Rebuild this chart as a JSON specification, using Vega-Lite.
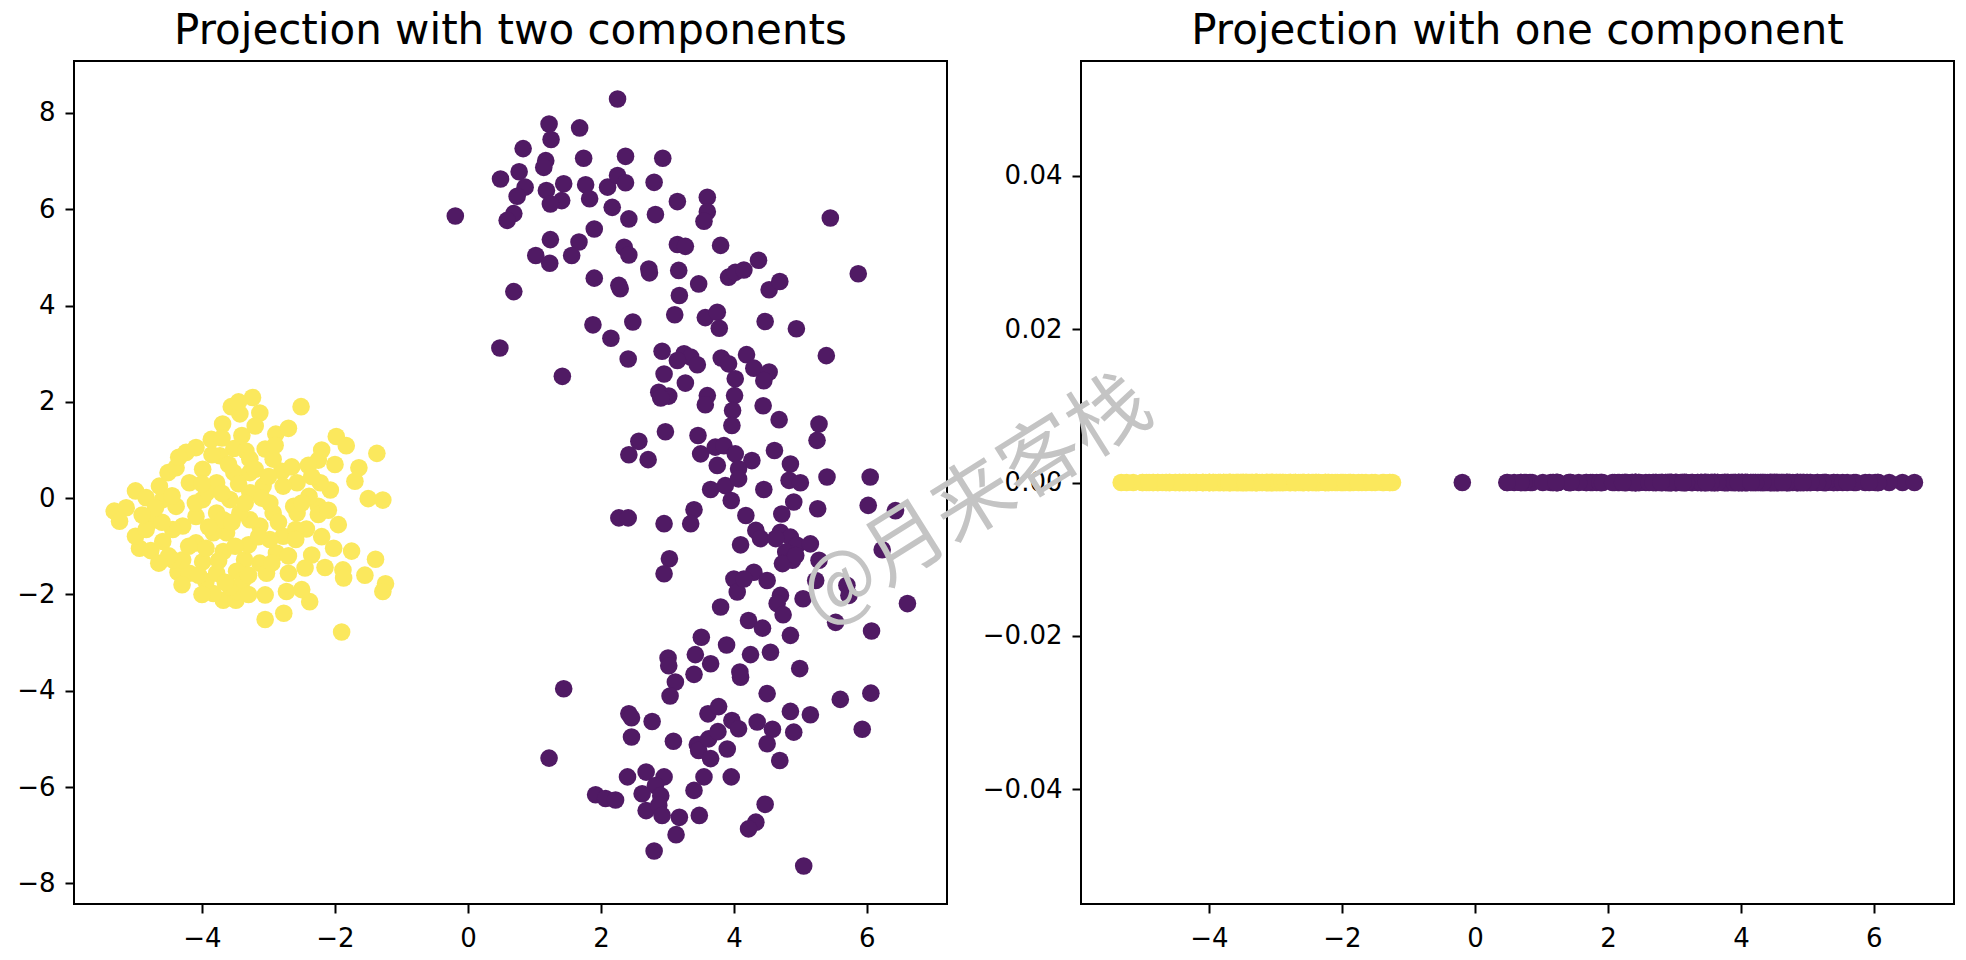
{
  "$schema": "https://vega.github.io/schema/vega-lite/v6.json",
  "background": "white",
  "padding": {"left": 15, "top": 9, "right": 14, "bottom": 10},
  "config": {
    "font": "DejaVu Sans",
    "view": {"stroke": "#000000", "strokeWidth": 2},
    "axis": {
      "grid": false,
      "domain": false,
      "ticks": true,
      "tickColor": "#000000",
      "tickWidth": 2,
      "tickSize": 9,
      "labelFont": "DejaVu Sans",
      "labelFontSize": 26,
      "labelColor": "#000000",
      "labelOverlap": false,
      "labelFlush": false
    },
    "axisX": {"labelPadding": 12},
    "axisY": {"labelPadding": 10},
    "title": {
      "font": "DejaVu Sans",
      "fontSize": 42,
      "fontWeight": "normal",
      "color": "#000000",
      "anchor": "middle",
      "baseline": "bottom",
      "offset": 8
    }
  },
  "datasets": {
    "pts": [
      {"x": 2.25, "y": 8.29, "group": 0}, {"x": 1.22, "y": 7.77, "group": 0}, {"x": 1.25, "y": 7.45, "group": 0},
      {"x": 1.68, "y": 7.69, "group": 0}, {"x": 0.83, "y": 7.26, "group": 0}, {"x": 1.74, "y": 7.06, "group": 0},
      {"x": 2.37, "y": 7.10, "group": 0}, {"x": 2.93, "y": 7.06, "group": 0}, {"x": 1.17, "y": 7.01, "group": 0},
      {"x": 1.14, "y": 6.87, "group": 0}, {"x": 0.77, "y": 6.78, "group": 0}, {"x": 0.49, "y": 6.63, "group": 0},
      {"x": 0.86, "y": 6.46, "group": 0}, {"x": 0.74, "y": 6.27, "group": 0}, {"x": 1.18, "y": 6.39, "group": 0},
      {"x": 1.44, "y": 6.53, "group": 0}, {"x": 1.77, "y": 6.51, "group": 0}, {"x": 1.41, "y": 6.18, "group": 0},
      {"x": 1.24, "y": 6.11, "group": 0}, {"x": 1.83, "y": 6.22, "group": 0}, {"x": 2.10, "y": 6.46, "group": 0},
      {"x": 2.25, "y": 6.70, "group": 0}, {"x": 2.37, "y": 6.55, "group": 0}, {"x": 2.17, "y": 6.04, "group": 0},
      {"x": 2.80, "y": 6.56, "group": 0}, {"x": -0.19, "y": 5.86, "group": 0}, {"x": 0.69, "y": 5.91, "group": 0},
      {"x": 0.59, "y": 5.77, "group": 0}, {"x": 2.42, "y": 5.80, "group": 0}, {"x": 2.82, "y": 5.89, "group": 0},
      {"x": 3.15, "y": 6.16, "group": 0}, {"x": 3.60, "y": 6.25, "group": 0}, {"x": 3.60, "y": 5.95, "group": 0},
      {"x": 3.55, "y": 5.75, "group": 0}, {"x": 5.45, "y": 5.82, "group": 0}, {"x": 1.90, "y": 5.59, "group": 0},
      {"x": 1.24, "y": 5.37, "group": 0}, {"x": 1.67, "y": 5.32, "group": 0}, {"x": 1.02, "y": 5.04, "group": 0},
      {"x": 1.23, "y": 4.88, "group": 0}, {"x": 1.56, "y": 5.04, "group": 0}, {"x": 2.35, "y": 5.21, "group": 0},
      {"x": 2.42, "y": 5.05, "group": 0}, {"x": 3.15, "y": 5.27, "group": 0}, {"x": 3.27, "y": 5.23, "group": 0},
      {"x": 3.80, "y": 5.25, "group": 0}, {"x": 2.72, "y": 4.76, "group": 0}, {"x": 2.73, "y": 4.68, "group": 0},
      {"x": 3.17, "y": 4.73, "group": 0}, {"x": 3.47, "y": 4.45, "group": 0}, {"x": 3.92, "y": 4.59, "group": 0},
      {"x": 4.02, "y": 4.69, "group": 0}, {"x": 4.15, "y": 4.74, "group": 0}, {"x": 4.37, "y": 4.94, "group": 0},
      {"x": 4.53, "y": 4.33, "group": 0}, {"x": 4.69, "y": 4.50, "group": 0}, {"x": 5.87, "y": 4.66, "group": 0},
      {"x": 0.69, "y": 4.29, "group": 0}, {"x": 1.90, "y": 4.57, "group": 0}, {"x": 2.29, "y": 4.35, "group": 0},
      {"x": 2.27, "y": 4.42, "group": 0}, {"x": 3.18, "y": 4.21, "group": 0}, {"x": 3.11, "y": 3.81, "group": 0},
      {"x": 3.57, "y": 3.75, "group": 0}, {"x": 3.75, "y": 3.86, "group": 0}, {"x": 3.78, "y": 3.53, "group": 0},
      {"x": 4.47, "y": 3.67, "group": 0}, {"x": 4.94, "y": 3.52, "group": 0}, {"x": 1.88, "y": 3.60, "group": 0},
      {"x": 2.48, "y": 3.66, "group": 0}, {"x": 2.15, "y": 3.32, "group": 0}, {"x": 0.48, "y": 3.12, "group": 0},
      {"x": 2.41, "y": 2.89, "group": 0}, {"x": 2.92, "y": 3.05, "group": 0}, {"x": 3.25, "y": 3.00, "group": 0},
      {"x": 3.35, "y": 2.93, "group": 0}, {"x": 3.45, "y": 2.77, "group": 0}, {"x": 2.95, "y": 2.58, "group": 0},
      {"x": 3.27, "y": 2.39, "group": 0}, {"x": 3.15, "y": 2.86, "group": 0}, {"x": 3.81, "y": 2.91, "group": 0},
      {"x": 3.92, "y": 2.79, "group": 0}, {"x": 4.19, "y": 2.98, "group": 0}, {"x": 4.30, "y": 2.70, "group": 0},
      {"x": 4.53, "y": 2.62, "group": 0}, {"x": 4.45, "y": 2.44, "group": 0}, {"x": 4.02, "y": 2.48, "group": 0},
      {"x": 4.01, "y": 2.13, "group": 0}, {"x": 5.39, "y": 2.96, "group": 0}, {"x": 1.42, "y": 2.53, "group": 0},
      {"x": 2.87, "y": 2.20, "group": 0}, {"x": 3.02, "y": 2.12, "group": 0}, {"x": 2.90, "y": 2.08, "group": 0},
      {"x": 3.60, "y": 2.13, "group": 0}, {"x": 3.57, "y": 1.94, "group": 0}, {"x": 3.98, "y": 1.82, "group": 0},
      {"x": 3.97, "y": 1.51, "group": 0}, {"x": 4.44, "y": 1.92, "group": 0}, {"x": 4.68, "y": 1.63, "group": 0},
      {"x": 5.28, "y": 1.54, "group": 0}, {"x": 5.25, "y": 1.20, "group": 0}, {"x": 2.97, "y": 1.38, "group": 0},
      {"x": 2.57, "y": 1.18, "group": 0}, {"x": 2.42, "y": 0.90, "group": 0}, {"x": 2.71, "y": 0.80, "group": 0},
      {"x": 3.46, "y": 1.30, "group": 0}, {"x": 3.50, "y": 0.92, "group": 0}, {"x": 3.72, "y": 1.06, "group": 0},
      {"x": 3.85, "y": 1.09, "group": 0}, {"x": 4.02, "y": 0.92, "group": 0}, {"x": 3.75, "y": 0.68, "group": 0},
      {"x": 4.27, "y": 0.78, "group": 0}, {"x": 4.61, "y": 0.99, "group": 0}, {"x": 4.85, "y": 0.71, "group": 0},
      {"x": 5.40, "y": 0.44, "group": 0}, {"x": 6.05, "y": 0.44, "group": 0}, {"x": 4.07, "y": 0.61, "group": 0},
      {"x": 3.65, "y": 0.18, "group": 0}, {"x": 3.87, "y": 0.26, "group": 0}, {"x": 4.07, "y": 0.40, "group": 0},
      {"x": 3.96, "y": -0.05, "group": 0}, {"x": 4.45, "y": 0.18, "group": 0}, {"x": 4.83, "y": 0.37, "group": 0},
      {"x": 5.00, "y": 0.32, "group": 0}, {"x": 4.90, "y": -0.08, "group": 0}, {"x": 4.72, "y": -0.33, "group": 0},
      {"x": 5.26, "y": -0.22, "group": 0}, {"x": 6.02, "y": -0.15, "group": 0}, {"x": 6.43, "y": -0.26, "group": 0},
      {"x": 2.27, "y": -0.41, "group": 0}, {"x": 2.41, "y": -0.41, "group": 0}, {"x": 2.95, "y": -0.53, "group": 0},
      {"x": 3.40, "y": -0.24, "group": 0}, {"x": 3.35, "y": -0.53, "group": 0}, {"x": 4.18, "y": -0.36, "group": 0},
      {"x": 4.33, "y": -0.67, "group": 0}, {"x": 4.40, "y": -0.84, "group": 0}, {"x": 4.70, "y": -0.71, "group": 0},
      {"x": 4.85, "y": -0.81, "group": 0}, {"x": 4.95, "y": -0.98, "group": 0}, {"x": 5.15, "y": -0.95, "group": 0},
      {"x": 4.78, "y": -1.12, "group": 0}, {"x": 4.88, "y": -1.29, "group": 0}, {"x": 4.73, "y": -1.36, "group": 0},
      {"x": 5.28, "y": -1.29, "group": 0}, {"x": 4.10, "y": -0.97, "group": 0}, {"x": 6.23, "y": -1.07, "group": 0},
      {"x": 5.23, "y": -1.71, "group": 0}, {"x": 5.70, "y": -1.81, "group": 0}, {"x": 5.73, "y": -2.02, "group": 0},
      {"x": 3.03, "y": -1.26, "group": 0}, {"x": 2.95, "y": -1.57, "group": 0}, {"x": 4.00, "y": -1.68, "group": 0},
      {"x": 4.30, "y": -1.54, "group": 0}, {"x": 4.50, "y": -1.71, "group": 0}, {"x": 4.05, "y": -1.95, "group": 0},
      {"x": 4.70, "y": -2.02, "group": 0}, {"x": 4.65, "y": -2.19, "group": 0}, {"x": 4.74, "y": -2.42, "group": 0},
      {"x": 5.04, "y": -2.09, "group": 0}, {"x": 3.80, "y": -2.26, "group": 0}, {"x": 6.61, "y": -2.19, "group": 0},
      {"x": 5.53, "y": -2.58, "group": 0}, {"x": 6.07, "y": -2.76, "group": 0}, {"x": 4.22, "y": -2.54, "group": 0},
      {"x": 4.43, "y": -2.70, "group": 0}, {"x": 4.85, "y": -2.85, "group": 0}, {"x": 3.51, "y": -2.89, "group": 0},
      {"x": 3.89, "y": -3.05, "group": 0}, {"x": 3.01, "y": -3.32, "group": 0}, {"x": 3.02, "y": -3.48, "group": 0},
      {"x": 3.42, "y": -3.25, "group": 0}, {"x": 3.65, "y": -3.44, "group": 0}, {"x": 3.40, "y": -3.66, "group": 0},
      {"x": 4.25, "y": -3.25, "group": 0}, {"x": 4.55, "y": -3.20, "group": 0}, {"x": 4.09, "y": -3.61, "group": 0},
      {"x": 4.10, "y": -3.72, "group": 0}, {"x": 4.99, "y": -3.54, "group": 0}, {"x": 3.12, "y": -3.82, "group": 0},
      {"x": 3.04, "y": -4.11, "group": 0}, {"x": 4.50, "y": -4.06, "group": 0}, {"x": 5.60, "y": -4.18, "group": 0},
      {"x": 6.06, "y": -4.05, "group": 0}, {"x": 1.44, "y": -3.96, "group": 0}, {"x": 2.42, "y": -4.48, "group": 0},
      {"x": 2.46, "y": -4.56, "group": 0}, {"x": 2.46, "y": -4.96, "group": 0}, {"x": 2.77, "y": -4.64, "group": 0},
      {"x": 3.61, "y": -4.48, "group": 0}, {"x": 3.77, "y": -4.33, "group": 0}, {"x": 3.97, "y": -4.62, "group": 0},
      {"x": 4.07, "y": -4.79, "group": 0}, {"x": 4.35, "y": -4.65, "group": 0}, {"x": 4.58, "y": -4.80, "group": 0},
      {"x": 4.85, "y": -4.43, "group": 0}, {"x": 5.15, "y": -4.50, "group": 0}, {"x": 4.90, "y": -4.86, "group": 0},
      {"x": 5.93, "y": -4.80, "group": 0}, {"x": 4.50, "y": -5.10, "group": 0}, {"x": 3.09, "y": -5.05, "group": 0},
      {"x": 3.45, "y": -5.12, "group": 0}, {"x": 3.47, "y": -5.24, "group": 0}, {"x": 3.62, "y": -5.00, "group": 0},
      {"x": 3.76, "y": -4.85, "group": 0}, {"x": 3.90, "y": -5.21, "group": 0}, {"x": 3.65, "y": -5.41, "group": 0},
      {"x": 4.69, "y": -5.45, "group": 0}, {"x": 1.22, "y": -5.40, "group": 0}, {"x": 2.40, "y": -5.79, "group": 0},
      {"x": 2.68, "y": -5.69, "group": 0}, {"x": 2.95, "y": -5.79, "group": 0}, {"x": 2.82, "y": -5.97, "group": 0},
      {"x": 3.55, "y": -5.79, "group": 0}, {"x": 3.96, "y": -5.79, "group": 0}, {"x": 3.40, "y": -6.07, "group": 0},
      {"x": 2.62, "y": -6.14, "group": 0}, {"x": 2.90, "y": -6.18, "group": 0}, {"x": 1.92, "y": -6.16, "group": 0},
      {"x": 2.07, "y": -6.24, "group": 0}, {"x": 2.22, "y": -6.27, "group": 0}, {"x": 2.68, "y": -6.49, "group": 0},
      {"x": 2.87, "y": -6.38, "group": 0}, {"x": 2.92, "y": -6.59, "group": 0}, {"x": 3.18, "y": -6.63, "group": 0},
      {"x": 3.48, "y": -6.59, "group": 0}, {"x": 3.13, "y": -6.99, "group": 0}, {"x": 4.47, "y": -6.36, "group": 0},
      {"x": 4.33, "y": -6.73, "group": 0}, {"x": 4.22, "y": -6.87, "group": 0}, {"x": 2.80, "y": -7.33, "group": 0},
      {"x": 5.05, "y": -7.64, "group": 0}, {"x": 4.63, "y": -0.84, "group": 0}, {"x": 4.93, "y": -1.19, "group": 0},
      {"x": 4.15, "y": -1.68, "group": 0},
      {"x": -3.24, "y": 2.09, "group": 1}, {"x": -3.56, "y": 1.90, "group": 1}, {"x": -3.43, "y": 1.75, "group": 1},
      {"x": -3.13, "y": 1.77, "group": 1}, {"x": -2.51, "y": 1.90, "group": 1}, {"x": -3.69, "y": 1.54, "group": 1},
      {"x": -2.89, "y": 1.33, "group": 1}, {"x": -3.86, "y": 1.22, "group": 1}, {"x": -4.09, "y": 1.05, "group": 1},
      {"x": -4.24, "y": 0.95, "group": 1}, {"x": -3.52, "y": 1.03, "group": 1}, {"x": -3.34, "y": 0.98, "group": 1},
      {"x": -3.05, "y": 1.02, "group": 1}, {"x": -1.98, "y": 1.28, "group": 1}, {"x": -1.83, "y": 1.09, "group": 1},
      {"x": -1.37, "y": 0.93, "group": 1}, {"x": -2.25, "y": 0.79, "group": 1}, {"x": -2.40, "y": 0.68, "group": 1},
      {"x": -2.00, "y": 0.70, "group": 1}, {"x": -1.64, "y": 0.63, "group": 1}, {"x": -2.80, "y": 0.56, "group": 1},
      {"x": -4.51, "y": 0.53, "group": 1}, {"x": -4.39, "y": 0.63, "group": 1}, {"x": -5.00, "y": 0.15, "group": 1},
      {"x": -4.84, "y": 0.01, "group": 1}, {"x": -5.32, "y": -0.27, "group": 1}, {"x": -5.14, "y": -0.20, "group": 1},
      {"x": -5.24, "y": -0.48, "group": 1}, {"x": -2.07, "y": 0.17, "group": 1}, {"x": -1.50, "y": -0.01, "group": 1},
      {"x": -1.28, "y": -0.04, "group": 1}, {"x": -2.57, "y": 0.32, "group": 1}, {"x": -2.25, "y": -0.17, "group": 1},
      {"x": -2.25, "y": -0.34, "group": 1}, {"x": -2.43, "y": -0.64, "group": 1}, {"x": -2.02, "y": -1.04, "group": 1},
      {"x": -1.39, "y": -1.27, "group": 1}, {"x": -2.35, "y": -1.18, "group": 1}, {"x": -2.15, "y": -1.44, "group": 1},
      {"x": -1.88, "y": -1.49, "group": 1}, {"x": -1.87, "y": -1.66, "group": 1}, {"x": -1.24, "y": -1.78, "group": 1},
      {"x": -1.28, "y": -1.94, "group": 1}, {"x": -3.05, "y": -2.01, "group": 1}, {"x": -2.73, "y": -1.94, "group": 1},
      {"x": -2.38, "y": -2.15, "group": 1}, {"x": -3.05, "y": -2.52, "group": 1}, {"x": -2.77, "y": -2.39, "group": 1},
      {"x": -1.90, "y": -2.78, "group": 1}, {"x": -2.70, "y": -1.56, "group": 1}, {"x": -3.68, "y": -2.12, "group": 1},
      {"x": -3.49, "y": -2.12, "group": 1}, {"x": -3.48, "y": -1.94, "group": 1}, {"x": -3.83, "y": -1.98, "group": 1},
      {"x": -3.94, "y": -1.73, "group": 1}, {"x": -4.36, "y": -1.54, "group": 1}, {"x": -4.19, "y": -1.56, "group": 1},
      {"x": -4.77, "y": -1.09, "group": 1}, {"x": -4.94, "y": -1.04, "group": 1}, {"x": -5.00, "y": -0.79, "group": 1},
      {"x": -4.77, "y": -0.48, "group": 1}, {"x": -4.59, "y": -0.90, "group": 1}, {"x": -2.62, "y": -0.17, "group": 1},
      {"x": -2.93, "y": -0.31, "group": 1}, {"x": -2.78, "y": -0.79, "group": 1}, {"x": -2.59, "y": -0.65, "group": 1},
      {"x": -2.88, "y": -1.14, "group": 1}, {"x": -3.13, "y": -1.35, "group": 1}, {"x": -3.36, "y": -1.28, "group": 1},
      {"x": -3.30, "y": -0.97, "group": 1}, {"x": -3.13, "y": -0.58, "group": 1}, {"x": -3.28, "y": -0.45, "group": 1},
      {"x": -3.63, "y": -0.72, "group": 1}, {"x": -3.68, "y": -1.11, "group": 1}, {"x": -3.99, "y": -1.32, "group": 1},
      {"x": -4.29, "y": -1.28, "group": 1}, {"x": -4.09, "y": -0.93, "group": 1}, {"x": -4.29, "y": -0.58, "group": 1},
      {"x": -4.39, "y": -0.17, "group": 1}, {"x": -4.59, "y": -0.03, "group": 1}, {"x": -4.64, "y": 0.25, "group": 1},
      {"x": -4.19, "y": 0.32, "group": 1}, {"x": -3.99, "y": 0.60, "group": 1}, {"x": -3.78, "y": 0.32, "group": 1},
      {"x": -3.99, "y": -0.03, "group": 1}, {"x": -4.09, "y": -0.38, "group": 1}, {"x": -3.78, "y": -0.31, "group": 1},
      {"x": -3.58, "y": -0.03, "group": 1}, {"x": -3.52, "y": 0.53, "group": 1}, {"x": -3.28, "y": 0.53, "group": 1},
      {"x": -3.08, "y": 0.25, "group": 1}, {"x": -3.28, "y": 0.11, "group": 1}, {"x": -2.98, "y": -0.10, "group": 1},
      {"x": -3.43, "y": -0.31, "group": 1}, {"x": -3.83, "y": -0.72, "group": 1}, {"x": -3.94, "y": -1.04, "group": 1},
      {"x": -3.78, "y": -1.56, "group": 1}, {"x": -3.48, "y": -1.52, "group": 1}, {"x": -3.03, "y": -1.56, "group": 1},
      {"x": -2.59, "y": -0.86, "group": 1}, {"x": -2.39, "y": 0.04, "group": 1}, {"x": -2.93, "y": 0.81, "group": 1},
      {"x": -3.28, "y": 0.81, "group": 1}, {"x": -3.73, "y": 0.88, "group": 1}, {"x": -4.44, "y": -0.65, "group": 1},
      {"x": -4.84, "y": -0.65, "group": 1}, {"x": -3.93, "y": 0.11, "group": 1}, {"x": -3.68, "y": -0.45, "group": 1},
      {"x": -2.78, "y": 0.25, "group": 1}, {"x": -2.57, "y": -0.31, "group": 1}, {"x": -2.22, "y": 0.32, "group": 1},
      {"x": -3.58, "y": -1.84, "group": 1}, {"x": -3.38, "y": -1.70, "group": 1}, {"x": -2.98, "y": -0.86, "group": 1},
      {"x": -4.44, "y": -1.28, "group": 1},
      {"x": -4.60, "y": -0.50, "group": 1}, {"x": -4.50, "y": -1.20, "group": 1}, {"x": -4.20, "y": -1.00, "group": 1},
      {"x": -4.10, "y": -0.10, "group": 1}, {"x": -4.00, "y": 0.30, "group": 1}, {"x": -3.90, "y": -0.60, "group": 1},
      {"x": -3.85, "y": 0.90, "group": 1}, {"x": -3.75, "y": -1.30, "group": 1}, {"x": -3.70, "y": 0.10, "group": 1},
      {"x": -3.60, "y": 0.70, "group": 1}, {"x": -3.55, "y": -0.50, "group": 1}, {"x": -3.50, "y": -1.00, "group": 1},
      {"x": -3.45, "y": 0.30, "group": 1}, {"x": -3.40, "y": 1.30, "group": 1}, {"x": -3.35, "y": -0.10, "group": 1},
      {"x": -3.30, "y": -1.60, "group": 1}, {"x": -3.20, "y": 0.60, "group": 1}, {"x": -3.15, "y": -0.80, "group": 1},
      {"x": -3.10, "y": 0.00, "group": 1}, {"x": -3.00, "y": 0.45, "group": 1}, {"x": -2.95, "y": -1.35, "group": 1},
      {"x": -2.90, "y": 1.10, "group": 1}, {"x": -2.85, "y": -0.50, "group": 1}, {"x": -2.70, "y": -1.20, "group": 1},
      {"x": -2.65, "y": 0.65, "group": 1}, {"x": -2.50, "y": -0.10, "group": 1}, {"x": -2.45, "y": -1.45, "group": 1},
      {"x": -2.35, "y": 0.45, "group": 1}, {"x": -2.20, "y": -0.80, "group": 1}, {"x": -2.10, "y": -0.25, "group": 1},
      {"x": -4.35, "y": 0.85, "group": 1}, {"x": -4.45, "y": 0.05, "group": 1}, {"x": -4.70, "y": -0.20, "group": 1},
      {"x": -4.90, "y": -0.35, "group": 1}, {"x": -4.65, "y": -1.35, "group": 1}, {"x": -4.05, "y": -1.60, "group": 1},
      {"x": -3.65, "y": -1.75, "group": 1}, {"x": -3.30, "y": -2.00, "group": 1}, {"x": -3.70, "y": 1.25, "group": 1},
      {"x": -3.20, "y": 1.50, "group": 1}, {"x": -3.45, "y": 2.00, "group": 1}, {"x": -2.70, "y": 1.45, "group": 1},
      {"x": -2.20, "y": 1.00, "group": 1}, {"x": -1.70, "y": 0.35, "group": 1}, {"x": -1.95, "y": -0.55, "group": 1},
      {"x": -1.75, "y": -1.10, "group": 1}, {"x": -1.55, "y": -1.60, "group": 1}, {"x": -2.50, "y": -1.90, "group": 1},
      {"x": -4.00, "y": -2.00, "group": 1}, {"x": -4.30, "y": -1.80, "group": 1}
    ]
  },
  "hconcat": [
    {
      "title": "Projection with two components",
      "width": 873,
      "height": 843,
      "data": {"name": "pts"},
      "mark": {"type": "circle", "size": 310, "opacity": 1},
      "encoding": {
        "x": {
          "field": "x", "type": "quantitative",
          "scale": {"domain": [-5.925, 7.205], "nice": false, "zero": false},
          "axis": {"title": null, "values": [-4, -2, 0, 2, 4, 6], "format": "d"}
        },
        "y": {
          "field": "y", "type": "quantitative",
          "scale": {"domain": [-8.43, 9.08], "nice": false, "zero": false},
          "axis": {"title": null, "values": [-8, -6, -4, -2, 0, 2, 4, 6, 8], "format": "d"}
        },
        "color": {
          "field": "group", "type": "nominal",
          "scale": {"domain": [0, 1], "range": ["#501a64", "#fbe85d"]},
          "legend": null
        }
      }
    },
    {
      "title": "Projection with one component",
      "width": 873,
      "height": 843,
      "layer": [
        {
          "data": {"name": "pts"},
          "mark": {"type": "circle", "size": 310, "opacity": 1},
          "encoding": {
            "x": {
              "field": "x", "type": "quantitative",
              "scale": {"domain": [-5.925, 7.205], "nice": false, "zero": false},
              "axis": {"title": null, "values": [-4, -2, 0, 2, 4, 6], "format": "d"}
            },
            "y": {
              "datum": 0, "type": "quantitative",
              "scale": {"domain": [-0.055, 0.055], "nice": false, "zero": false},
              "axis": {"title": null, "values": [-0.04, -0.02, 0, 0.02, 0.04], "format": ".2f"}
            },
            "color": {
              "field": "group", "type": "nominal",
              "scale": {"domain": [0, 1], "range": ["#501a64", "#fbe85d"]},
              "legend": null
            }
          }
        },
        {
          "data": {"values": [{}]},
          "mark": {
            "type": "text",
            "text": "@月来客栈",
            "font": "Noto Sans CJK SC",
            "fontSize": 80,
            "angle": -32,
            "color": "#c4c4c4",
            "align": "center",
            "baseline": "middle"
          },
          "encoding": {
            "x": {"datum": -7.5, "type": "quantitative"},
            "y": {"datum": -0.0025, "type": "quantitative"}
          }
        }
      ]
    }
  ],
  "spacing": 134,
  "bounds": "flush"
}
